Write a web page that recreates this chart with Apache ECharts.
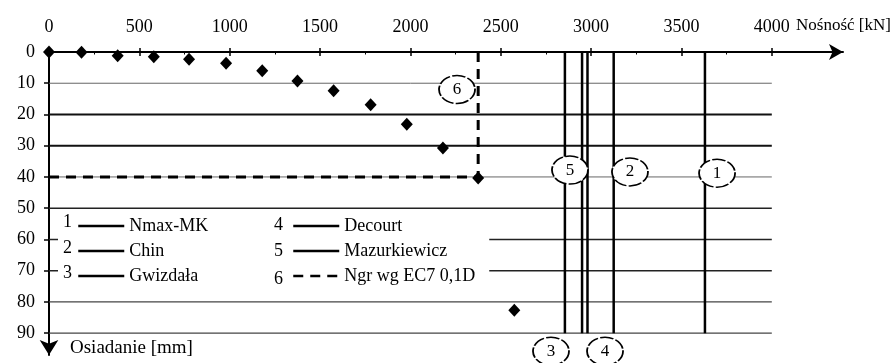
<!DOCTYPE html>
<html>
<head>
<meta charset="utf-8">
<script src="https://cdn.jsdelivr.net/npm/echarts@6/dist/echarts.min.js"></script>
<style>
html,body{margin:0;padding:0;background:#fff;}
#c{width:894px;height:363px;}
</style>
</head>
<body>
<div id="c"></div>
<script>
// ---- data ----
const xTickValues = [0, 500, 1000, 1500, 2000, 2500, 3000, 3500, 4000];
const xMinorTickValues = [250, 750, 1250, 1750, 2250, 2750, 3250, 3750];
const yTickValues = [0, 10, 20, 30, 40, 50, 60, 70, 80, 90];
const gridValues = [10, 20, 30, 40, 50, 60, 70, 80, 90];
const loads = [0, 180, 380, 580, 775, 980, 1180, 1375, 1575, 1780, 1980, 2180, 2375, 2575];
const settlements = [0, 0.1, 1.2, 1.5, 2.3, 3.6, 6.0, 9.3, 12.4, 16.9, 23.1, 30.7, 40.3, 82.7];
const methodNames = ['Nmax-MK', 'Chin', 'Gwizdała', 'Decourt', 'Mazurkiewicz'];
const methodCapacities = [3630, 3125, 2950, 2980, 2855];
const ngrName = 'Ngr wg EC7 0,1D';
const ngrLoad = 2375;
const ngrSettlement = 40;
const calloutNumbers = ['1', '2', '3', '4', '5', '6'];
const calloutLoads = [3697, 3215, 2778, 3077, 2883, 2258];
const calloutSettlements = [38.8, 38.4, 95.8, 95.8, 37.8, 12.0];
const legendNumbers = ['1', '2', '3', '4', '5', '6'];
const xName = 'Nośność [kN]';
const yName = 'Osiadanie [mm]';

// ---- styles (kept separate from data) ----
const FONT = 'Liberation Serif';
const gridWidths = [1, 2, 2, 1, 1.5, 1.5, 1.5, 1.2, 1.2];
const gridColors = ['#666', '#111', '#111', '#666', '#222', '#222', '#222', '#444', '#444'];
const legendNumLeft = [63, 63, 63, 274, 274, 274];
const legendNumTop = [213, 239, 264, 216, 242, 270];

const chart = echarts.init(document.getElementById('c'), null, {renderer: 'canvas'});

const series = [];
gridValues.forEach((v, i) => {
  series.push({
    type: 'line', name: 'grid' + v, silent: true, symbol: 'none', z: 1,
    data: [[0, v], [4000, v]],
    lineStyle: {color: gridColors[i], width: gridWidths[i]}
  });
});
methodNames.forEach((n, i) => {
  series.push({
    type: 'line', name: n, symbol: 'none', z: 2, color: '#000',
    data: [[methodCapacities[i], 0], [methodCapacities[i], 90]],
    lineStyle: {color: '#000', width: 2.5}
  });
});
series.push({
  type: 'line', name: ngrName, symbol: 'none', z: 3, color: '#000',
  data: [[0, ngrSettlement], [ngrLoad, ngrSettlement], [ngrLoad, 0]],
  lineStyle: {color: '#000', width: 3, type: [10, 7]}
});
series.push({
  type: 'scatter', name: 'pomiar', z: 4, symbol: 'diamond', symbolSize: [12, 13],
  itemStyle: {color: '#000', opacity: 1},
  data: loads.map((x, i) => [x, settlements[i]])
});
series.push({
  type: 'scatter', name: 'callouts', z: 5, clip: false, symbol: 'circle', symbolSize: [36, 28],
  itemStyle: {color: '#fff', opacity: 1, borderColor: '#000', borderWidth: 1.6, borderType: [12, 2]},
  label: {show: true, position: 'inside', formatter: p => p.name, fontFamily: FONT, fontSize: 17, color: '#000'},
  data: calloutNumbers.map((n, i) => ({name: n, value: [calloutLoads[i], calloutSettlements[i]]}))
});

const baseX = {
  type: 'value', position: 'top', min: 0, max: 4394, offset: 0,
  splitLine: {show: false}
};

const legendText = {fontFamily: FONT, fontSize: 18, color: '#000'};
const legendCommon = {
  top: 212, orient: 'vertical', itemWidth: 46, itemHeight: 14, itemGap: 7,
  backgroundColor: '#fff', selectedMode: false, textStyle: legendText,
  itemStyle: {opacity: 0, borderWidth: 0},
  lineStyle: {width: 2.5}
};

const option = {
  animation: false,
  backgroundColor: '#fff',
  grid: {left: 49, top: 52, right: 51, bottom: 8, containLabel: false, outerBoundsMode: 'none'},
  xAxis: [
    Object.assign({}, baseX, {
      name: xName, nameLocation: 'end', nameGap: -47,
      nameTextStyle: {fontFamily: FONT, fontSize: 17, color: '#000', align: 'left', verticalAlign: 'bottom', padding: [0, 0, 18, 0]},
      axisLine: {show: true, lineStyle: {color: '#000', width: 2}, symbol: ['none', 'arrow'], symbolSize: [12, 14]},
      axisTick: {show: true, inside: false, length: 4, lineStyle: {color: '#000', width: 1.5}, customValues: xTickValues},
      axisLabel: {show: true, margin: 16, fontFamily: FONT, fontSize: 18, color: '#000', customValues: xTickValues,
                  formatter: v => String(v)}
    }),
    Object.assign({}, baseX, {
      axisLine: {show: false},
      axisTick: {show: true, inside: true, length: 4, lineStyle: {color: '#000', width: 1.5}, customValues: xTickValues},
      axisLabel: {show: false}
    }),
    Object.assign({}, baseX, {
      axisLine: {show: false},
      axisTick: {show: true, inside: true, length: 2.5, lineStyle: {color: '#000', width: 1}, customValues: xMinorTickValues},
      axisLabel: {show: false}
    })
  ],
  yAxis: {
    type: 'value', inverse: true, min: 0, max: 97,
    name: yName, nameLocation: 'end', nameGap: -7,
    nameTextStyle: {fontFamily: FONT, fontSize: 19, color: '#000', align: 'left', verticalAlign: 'middle', padding: [0, 0, 0, 21]},
    splitLine: {show: false},
    axisLine: {show: true, lineStyle: {color: '#000', width: 2}, symbol: ['arrow', 'none'], symbolSize: [14, 15]},
    axisTick: {show: true, length: 5, lineStyle: {color: '#000', width: 1.5}, customValues: yTickValues},
    axisLabel: {show: true, margin: 14, fontFamily: FONT, fontSize: 18, color: '#000', customValues: yTickValues,
                formatter: v => String(v)}
  },
  legend: [
    Object.assign({}, legendCommon, {
      left: 58, padding: [5, 80, 5, 19],
      data: methodNames.slice(0, 3)
    }),
    Object.assign({}, legendCommon, {
      left: 270, padding: [5, 14, 5, 22],
      data: [methodNames[3], methodNames[4], ngrName]
    })
  ],
  graphic: legendNumbers.map((t, i) => ({
    type: 'text', z: 100, left: legendNumLeft[i], top: legendNumTop[i],
    style: {text: t, font: '18px "Liberation Serif"', fill: '#000'}
  })),
  series: series
};
chart.setOption(option);
</script>
</body>
</html>
